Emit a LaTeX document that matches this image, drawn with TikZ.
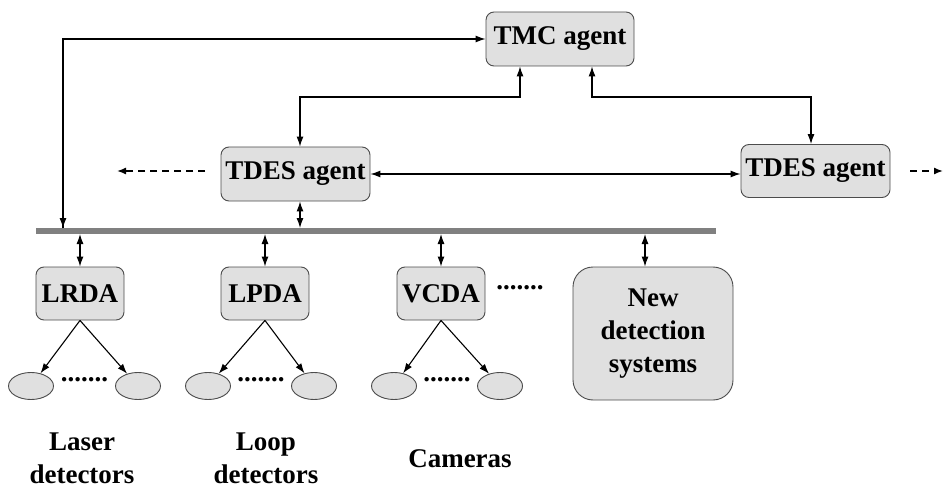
\documentclass[tikz,border=0pt]{standalone}
\usepackage{fontspec}
\setmainfont{Liberation Serif}
\usetikzlibrary{shapes.geometric,arrows.meta}
\begin{document}
\begin{tikzpicture}[x=1pt,y=-1pt,
  box/.style={draw=black!70,fill=black!12,rounded corners=8pt,line width=0.9pt,
    font=\fontsize{27}{33}\selectfont\bfseries,inner sep=0pt,align=center},
  det/.style={draw=black!70,fill=black!12,ellipse,line width=0.9pt,minimum width=45pt,minimum height=27pt,inner sep=0pt},
  lbl/.style={font=\fontsize{27}{33}\selectfont\bfseries,align=center,inner sep=0pt},
  con/.style={line width=1.1pt,-{Latex[length=10pt,width=7pt]}},
  dcon/.style={line width=1.1pt,{Latex[length=10pt,width=7pt]}-{Latex[length=10pt,width=7pt]}},
  dsh/.style={line width=1.4pt,dash pattern=on 7pt off 5pt,-{Latex[length=9pt,width=7pt]}}]
\useasboundingbox (0,0) rectangle (944,489);
% agents
\node[box,minimum width=148pt,minimum height=54pt] (tmc) at (560,39) {TMC agent};
\node[box,minimum width=149pt,minimum height=54pt] (tdesl) at (295.5,174) {TDES agent};
\node[box,minimum width=149pt,minimum height=53pt] (tdesr) at (815.5,171) {TDES agent};
% bus
\coordinate (busl) at (36,231);
\coordinate (busr) at (716,231);
\draw[line width=6pt,black!50] (busl) -- (busr);
% detection agents
\node[box,minimum width=88pt,minimum height=53pt] (lrda) at (80,293.5) {LRDA};
\node[box,minimum width=88pt,minimum height=53pt] (lpda) at (265,293.5) {LPDA};
\node[box,minimum width=88pt,minimum height=53pt] (vcda) at (441,293.5) {VCDA};
\node[box,minimum width=160pt,minimum height=133pt,rounded corners=20pt] (nds) at (653,333.5) {New\\detection\\systems};
\node[lbl] (dots0) at (520,288) {.......};
% detectors
\node[det] (l1) at (31,386) {};
\node[det] (l2) at (138,386) {};
\node[det] (p1) at (208,386) {};
\node[det] (p2) at (314,386) {};
\node[det] (c1) at (394,386) {};
\node[det] (c2) at (500,386) {};
\node[lbl] (ld) at (84.5,380) {.......};
\node[lbl] (pd) at (261,380) {.......};
\node[lbl] (cd) at (447,380) {.......};
% labels
\node[lbl] (laser) at (82,458) {Laser\\detectors};
\node[lbl] (loop) at (266,458) {Loop\\detectors};
\node[lbl] (cam) at (460,459) {Cameras};
% connectors
\coordinate (tl) at (63,39);
\coordinate (tb) at (63,228);
\draw[con] (tb) -- (tl) -- (tmc.west);
\draw[con] (tl) -- (tb);
\draw[dcon] (tdesl.north -| 300,0) |- (520,97) -- (tmc.south -| 520,0);
\draw[dcon] (tdesr.north -| 811,0) |- (592,97) -- (tmc.south -| 592,0);
\draw[dcon] (tdesl.east) -- (tdesl.east -| tdesr.west);
\draw[dcon] (tdesl.south -| 300,0) -- (300,228);
\draw[dsh] (205,171) -- (117,171);
\draw[dsh] (910,171) -- (943,171);
\draw[dcon] (80,234) -- (lrda.north);
\draw[dcon] (265,234) -- (lpda.north);
\draw[dcon] (441,234) -- (vcda.north);
\draw[dcon] (645,234) -- (nds.north -| 645,0);
\draw[con] (lrda.south) -- (l1);
\draw[con] (lrda.south) -- (l2);
\draw[con] (lpda.south) -- (p1);
\draw[con] (lpda.south) -- (p2);
\draw[con] (vcda.south) -- (c1);
\draw[con] (vcda.south) -- (c2);
\end{tikzpicture}
\end{document}
